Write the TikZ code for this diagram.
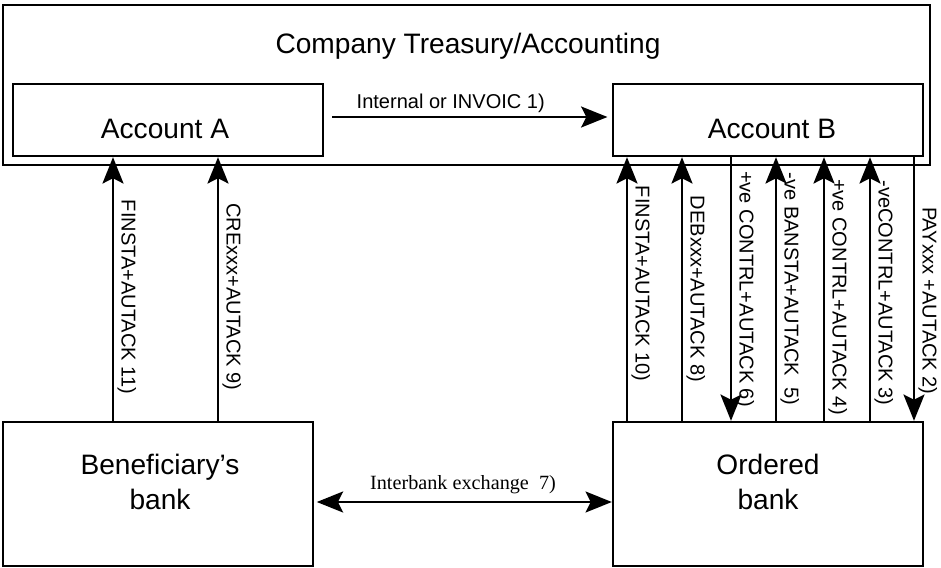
\documentclass[tikz,border=0pt]{standalone}
\usepackage{fontspec}
\setmainfont{Liberation Sans}
\newfontfamily\timesfont{Liberation Serif}
\usetikzlibrary{arrows.meta}
\usetikzlibrary{calc}

\tikzset{
  box/.style={draw, line width=1.4pt, inner sep=0pt},
  bigtxt/.style={font=\fontsize{16}{20}\selectfont, align=center},
  msg/.style={font=\fontsize{11.4}{14}\selectfont, inner sep=2pt},
  vmsg/.style={msg, rotate=-90, anchor=south},
  flowtip/.tip={Stealth[length=15pt,width=12pt,inset=3pt]},
  flow/.style={draw, line width=1.1pt, -flowtip},
  dflow/.style={draw, line width=1.1pt, flowtip-flowtip},
}

\begin{document}
\begin{tikzpicture}[x=0.02cm, y=-0.02cm]
  \useasboundingbox (0,0) rectangle (941,568);

  % boxes
  \node [box, minimum width=18.54cm, minimum height=3.2cm] (treasury) at (466.5,85) {};
  \node [box, minimum width=6.2cm, minimum height=1.44cm] (accA) at (168,120) {};
  \node [box, minimum width=6.2cm, minimum height=1.44cm] (accB) at (768,120) {};
  \node [box, minimum width=6.2cm, minimum height=2.88cm] (benbank) at (158,494) {};
  \node [box, minimum width=6.2cm, minimum height=2.88cm] (ordbank) at (768,494) {};

  % box texts
  \node [bigtxt, anchor=base] (treasury_txt) at (468,53) {Company Treasury/Accounting};
  \node [bigtxt, anchor=base] (accA_txt) at (165,138) {Account A};
  \node [bigtxt, anchor=base] (accB_txt) at (772,138) {Account B};
  \node [bigtxt] (benbank_txt) at (160,482) {Beneficiary’s\\bank};
  \node [bigtxt] (ordbank_txt) at (768,482) {Ordered\\bank};

  % horizontal flows
  \path (accA.east |- 0,117) edge [flow, shorten <=4.5pt, shorten >=2.5pt]
      node [msg, above, pos=0.44] {Internal or INVOIC 1)} (accB.west |- 0,117);
  \path (benbank.east |- 0,502) edge [dflow, shorten <=1.5pt]
      node [msg, above=2pt, font=\timesfont\fontsize{11.5}{14}\selectfont] {Interbank exchange~~7)} (ordbank.west |- 0,502);

  % vertical flows
  \path [every edge/.style={flow}]
    (benbank.north -| 113,0) edge node [vmsg, pos=0.47]  {FINSTA+AUTACK 11)}    (accA.south -| 113,0)
    (benbank.north -| 218,0) edge node [vmsg, pos=0.47]  {CRExxx+AUTACK 9)}     (accA.south -| 218,0)
    (ordbank.north -| 627,0) edge node [vmsg, pos=0.52]  {FINSTA+AUTACK 10)}    (accB.south -| 627,0)
    (ordbank.north -| 682,0) edge node [vmsg, pos=0.5]   {DEBxxx+AUTACK 8)}     (accB.south -| 682,0)
    (accB.south -| 731,0)    edge node [vmsg, pos=0.5]   {+ve CONTRL+AUTACK 6)} (ordbank.north -| 731,0)
    (ordbank.north -| 776,0) edge node [vmsg, pos=0.5]   {-ve BANSTA+AUTACK~~5)} (accB.south -| 776,0)
    (ordbank.north -| 824,0) edge node [vmsg, pos=0.47]  {+ve CONTRL+AUTACK 4)} (accB.south -| 824,0)
    (ordbank.north -| 870,0) edge node [vmsg, pos=0.485] {-veCONTRL+AUTACK 3)}  (accB.south -| 870,0)
    (accB.south -| 914,0)    edge node [vmsg, pos=0.545] {PAYxxx +AUTACK 2)}    (ordbank.north -| 914,0);

\end{tikzpicture}
\end{document}
